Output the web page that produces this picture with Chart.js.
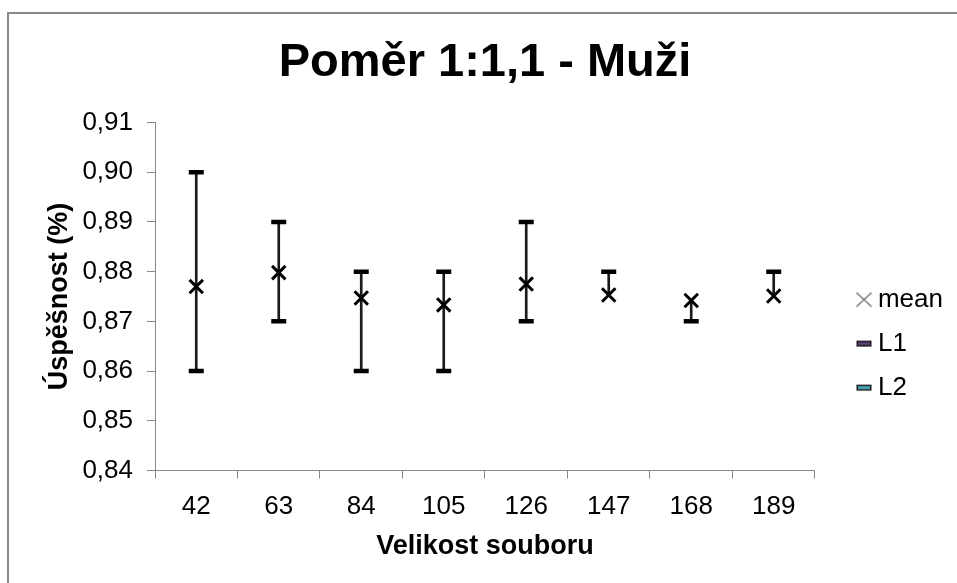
<!DOCTYPE html>
<html>
<head>
<meta charset="utf-8">
<script src="https://cdn.jsdelivr.net/npm/chart.js@4"></script>
<style>
  html, body { margin: 0; padding: 0; background: #fff; overflow: hidden; }
  #frame { position: absolute; left: 7px; top: 12px; width: 1000px; height: 700px; border: 2px solid #878787; }
  #wrap { position: absolute; left: 0; top: 0; width: 957px; height: 583px; }
</style>
</head>
<body>
<div id="frame"></div>
<div id="wrap"><canvas id="chart" width="957" height="583"></canvas></div>
<script>
const sizes = ['42', '63', '84', '105', '126', '147', '168', '189'];
const meanValues = [0.8770, 0.8798, 0.8747, 0.8733, 0.8775, 0.8753, 0.8742, 0.8751];
const l1Values = [0.90, 0.89, 0.88, 0.88, 0.89, 0.88, null, 0.88];
const l2Values = [0.86, 0.87, 0.86, 0.86, 0.87, null, 0.87, null];
const yTicks = [0.84, 0.85, 0.86, 0.87, 0.88, 0.89, 0.90, 0.91];

// high-low line for each column, from whatever values are present
const highLow = sizes.map((_, i) => {
  const v = [meanValues[i], l1Values[i], l2Values[i]].filter(x => x !== null);
  return [Math.min(...v), Math.max(...v)];
});

// small legend symbols (drawn off-centre so the gap to the text matches)
function legendMark(kind, color) {
  const c = document.createElement('canvas');
  c.width = 62; c.height = 20;
  const g = c.getContext('2d');
  const cx = 46, cy = 10;
  if (kind === 'cross') {
    g.strokeStyle = color;
    g.lineWidth = 1.6;
    g.beginPath();
    g.moveTo(cx - 7.5, cy - 7); g.lineTo(cx + 7.5, cy + 7);
    g.moveTo(cx + 7.5, cy - 7); g.lineTo(cx - 7.5, cy + 7);
    g.stroke();
  } else {
    g.fillStyle = '#1c1c1c';
    g.fillRect(cx - 7.5, cy - 3, 15, 6);
    g.fillStyle = color;
    g.fillRect(cx - 6, cy - 1.5, 12, 3);
  }
  return c;
}
const marks = [legendMark('cross', '#7a7a7a'), legendMark('dash', '#5b3f7a'), legendMark('dash', '#4bacc6')];

const font = 'Liberation Sans, Arial, sans-serif';

new Chart(document.getElementById('chart'), {
  type: 'line',
  data: {
    labels: sizes,
    datasets: [
      {
        label: 'mean',
        data: meanValues,
        showLine: false,
        pointStyle: 'crossRot',
        pointRadius: 9.5,
        pointBorderWidth: 3,
        borderColor: '#000',
        backgroundColor: '#000',
        order: 0
      },
      {
        label: 'L1',
        data: l1Values,
        showLine: false,
        pointStyle: 'line',
        pointRadius: 7.5,
        pointBorderWidth: 4.5,
        borderColor: '#000',
        backgroundColor: '#000',
        order: 1
      },
      {
        label: 'L2',
        data: l2Values,
        showLine: false,
        pointStyle: 'line',
        pointRadius: 7.5,
        pointBorderWidth: 4.5,
        borderColor: '#000',
        backgroundColor: '#000',
        order: 2
      },
      {
        type: 'bar',
        label: 'highlow',
        data: highLow,
        barThickness: 2,
        backgroundColor: '#1a1a1a',
        borderWidth: 0,
        order: 5
      }
    ]
  },
  options: {
    responsive: false,
    animation: false,
    layout: { padding: { left: 20, right: 4, top: 0, bottom: 0 } },
    plugins: {
      tooltip: { enabled: false },
      title: {
        display: true,
        text: 'Poměr 1:1,1 - Muži',
        fullSize: false,
        color: '#000',
        font: { family: font, size: 47, weight: 'bold' },
        padding: { top: 35, bottom: 31 }
      },
      legend: {
        position: 'right',
        align: 'start',
        fullSize: false,
        title: { display: true, text: ' ', font: { size: 1 }, padding: { top: 145, bottom: 0 } },
        labels: {
          usePointStyle: true,
          pointStyleWidth: 32,
          padding: 18,
          color: '#000',
          font: { family: font, size: 26 },
          filter: item => item.datasetIndex < 3,
          generateLabels(chart) {
            const items = Chart.defaults.plugins.legend.labels.generateLabels(chart);
            items.forEach(it => { if (it.datasetIndex < 3) it.pointStyle = marks[it.datasetIndex]; });
            return items;
          }
        }
      }
    },
    scales: {
      x: {
        offset: true,
        afterFit: s => { s.height = 112.4; },
        grid: { offset: true, drawOnChartArea: false, tickLength: 8, color: '#888' },
        border: { color: '#888', width: 1 },
        ticks: { color: '#000', padding: 13, font: { family: font, size: 26 } },
        title: {
          display: true,
          text: 'Velikost souboru',
          color: '#000',
          font: { family: font, size: 27, weight: 'bold' },
          padding: { top: 0, bottom: 20 }
        }
      },
      y: {
        min: 0.84,
        max: 0.91,
        afterBuildTicks: s => { s.ticks = yTicks.map(v => ({ value: v })); },
        afterFit: s => { s.width = 135; },
        grid: { drawOnChartArea: false, tickLength: 8, color: '#888' },
        border: { color: '#888', width: 1 },
        ticks: {
          color: '#000',
          padding: 14,
          font: { family: font, size: 26 },
          callback: v => v.toFixed(2).replace('.', ',')
        },
        title: {
          display: true,
          text: 'Úspěšnost (%)',
          color: '#000',
          font: { family: font, size: 27, weight: 'bold' },
          padding: { top: 23, bottom: 0 }
        }
      }
    }
  }
});
</script>
</body>
</html>
